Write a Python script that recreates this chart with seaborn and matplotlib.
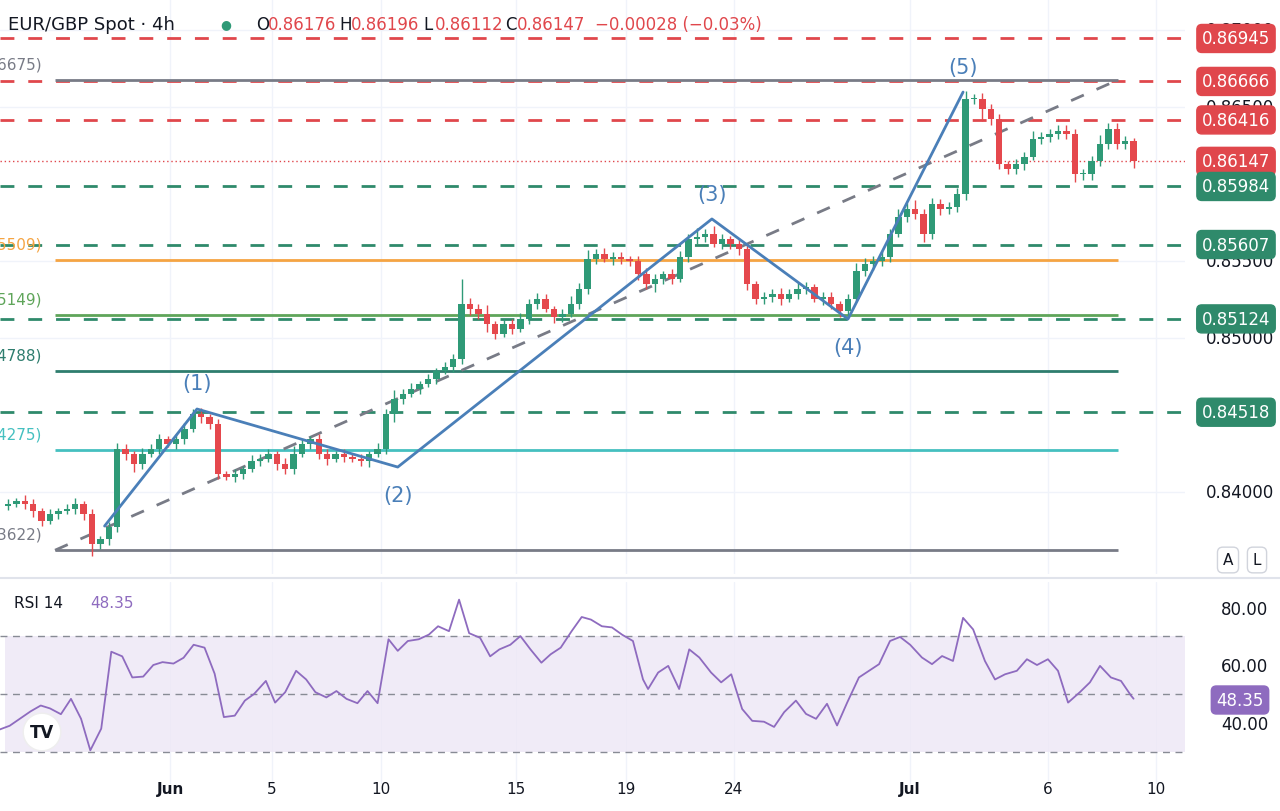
import numpy as np
import pandas as pd
import matplotlib
matplotlib.use("Agg")
import matplotlib.pyplot as plt
import seaborn as sns

# ---------------- data ----------------
closes = [0.83922,0.83942,0.83922,0.83877,0.83812,0.83857,0.83877,0.83890,0.83922,0.83857,
          0.83662,0.83695,0.83773,0.84279,0.84247,0.84182,0.84247,0.84279,0.84344,0.84312,
          0.84344,0.84409,0.84506,0.84487,0.84442,0.84117,0.84097,0.84117,0.84149,0.84201,
          0.84214,0.84247,0.84182,0.84149,0.84247,0.84312,0.84344,0.84247,0.84214,0.84247,
          0.84227,0.84214,0.84201,0.84247,0.84279,0.84506,0.84604,0.84636,0.84669,0.84701,
          0.84734,0.84786,0.84812,0.84864,0.85221,0.85188,0.85156,0.85091,0.85026,0.85091,
          0.85058,0.85123,0.85221,0.85253,0.85188,0.85136,0.85156,0.85221,0.85318,0.85513,
          0.85545,0.85513,0.85526,0.85513,0.85500,0.85416,0.85351,0.85383,0.85416,0.85383,
          0.85526,0.85643,0.85656,0.85675,0.85610,0.85643,0.85610,0.85578,0.85351,0.85253,
          0.85266,0.85286,0.85253,0.85286,0.85318,0.85331,0.85253,0.85266,0.85221,0.85175,
          0.85253,0.85435,0.85481,0.85500,0.85526,0.85675,0.85786,0.85838,0.85805,0.85675,
          0.85870,0.85838,0.85851,0.85935,0.86552,0.86552,0.86487,0.86422,0.86130,0.86097,
          0.86130,0.86175,0.86292,0.86305,0.86325,0.86344,0.86325,0.86065,0.86065,0.86149,
          0.86260,0.86357,0.86260,0.86279,0.86147]
first_open = 0.83910
upper_wick_pips = [3,2,4,3,2,3,2,3,4,2, 3,2,3,4,3,2,4,3,3,2, 3,4,3,4,2,3,2,3,2,4,
                   3,3,2,4,5,3,2,3,3,2, 3,2,3,2,4,3,6,3,4,2, 3,2,3,3,16,4,3,6,2,3,
                   3,4,3,4,3,2,3,5,4,6, 3,4,3,3,2,3,4,3,2,3, 4,3,6,3,5,3,2,3,3,2,
                   3,3,4,3,4,3,2,3,3,2, 3,5,4,3,4,3,5,4,6,3, 4,3,3,4,5,3,4,3,3,2,
                   3,3,5,3,3,4,4,3,3,3, 6,4,4,3,2]
lower_wick_pips = [3,2,3,4,3,2,3,2,3,4, 8,3,4,3,4,5,3,2,3,2, 3,3,2,4,3,3,2,3,3,2,
                   3,2,4,3,3,2,3,3,4,2, 3,2,3,4,2,3,5,3,2,3, 2,3,2,3,3,4,3,5,3,2,
                   3,2,3,3,2,4,3,2,3,3, 3,2,4,3,3,4,3,5,3,3, 2,3,3,3,2,3,3,4,4,3,
                   3,3,4,2,3,3,2,4,3,4, 3,2,3,4,3,3,2,3,3,5, 3,4,3,3,4,3,8,4,3,3,
                   3,4,2,3,3,3,3,5,4,4, 3,3,3,3,4]

rsi_bar = [-1.0,0.2,1.4,2.7,3.9,5.0,6.3,7.5,8.7,9.8,11.1,12.3,13.6,14.8,16.1,17.3,18.4,19.7,20.9,22.1,
           23.4,24.6,25.7,27.0,28.2,29.3,30.7,31.8,33.0,34.3,35.5,36.6,37.9,39.1,40.3,41.6,42.8,44.0,45.3,46.4,
           47.6,48.9,50.1,51.2,52.5,53.7,54.9,56.2,57.4,58.5,59.8,61.0,62.2,63.5,64.6,65.8,67.1,68.3,69.4,70.7,
           71.9,73.1,74.4,75.6,76.2,77.4,78.6,79.9,81.1,82.3,83.7,84.9,86.1,87.4,88.6,90.0,91.2,92.4,93.8,95.0,
           96.2,97.5,98.7,99.9,101.3,102.5,103.7,105.0,106.2,107.4,108.8,110.0,111.2,112.5,113.7,114.9,116.3,117.5,118.7,120.1,
           121.3,122.5,123.8,125.0,126.2,127.6,128.8,130.0,131.3,132.5,133.7,134.0]
rsi_val = [37.7,39.0,41.4,44.0,46.0,45.0,43.0,48.3,41.4,30.5,38.0,64.6,63.0,55.7,56.0,60.0,61.0,60.5,62.5,67.0,
           66.0,57.0,42.0,42.5,47.7,50.0,54.5,47.0,50.6,58.0,55.0,50.6,48.8,51.0,48.3,46.8,51.0,46.8,68.9,64.9,
           68.3,68.9,70.5,73.4,71.7,82.6,71.0,69.4,63.0,65.4,67.0,70.0,65.4,60.8,63.7,66.0,71.7,76.6,75.7,73.4,
           73.0,70.5,68.3,55.0,51.7,57.4,59.7,51.7,65.4,62.6,57.4,54.0,56.8,44.8,40.7,40.4,38.6,43.7,47.7,43.1,
           41.4,46.6,39.1,47.0,55.7,58.0,60.3,68.3,69.7,67.0,62.6,60.3,63.1,61.4,76.3,72.3,61.4,55.0,56.8,58.0,
           62.0,60.0,62.0,58.0,47.0,50.6,54.0,59.7,55.7,54.5,49.4,48.35]

tick_bars = [19.3,31.4,44.4,60.5,73.6,86.4,107.4,123.8,136.7]
tick_labels = ["Jun","5","10","15","19","24","Jul","6","10"]

wave_bar = [11.5,22.5,46.4,83.8,100.0,113.7]
wave_price = [0.83779,0.84539,0.84162,0.85773,0.85123,0.86597]
wave_labels = ["(1)","(2)","(3)","(4)","(5)"]

fib_levels = [0.86675,0.85509,0.85149,0.84788,0.84275,0.83622]
fib_colors = ["#787b86","#f5a442","#5fa55a","#2e7d6e","#45c0c0","#787b86"]
fib_start_bar, fib_end_bar = 5.6, 132.1

res_levels = [0.86945,0.86666,0.86416]
sup_levels = [0.85984,0.85607,0.85124,0.84518]
last_price = 0.86147
axis_prices = [0.87000,0.86500,0.85500,0.85000,0.84000]
rsi_ticks = [80,60,40]

# ---------------- figure ----------------
sns.set_theme(style="white")
W, H = 1280, 812
fig = plt.figure(figsize=(12.8, 8.12), dpi=100)
fig.patch.set_facecolor("white")

def fx(px): return px / W
def fy(py): return 1 - py / H

XL = (-0.95, (1185 - 8) / 8.4)
ax = fig.add_axes([0, fy(575), fx(1185), 575 / H])
ax.set_xlim(*XL)
pmax = 0.85 + 339 / 15400
pmin = 0.85 - 236 / 15400
ax.set_ylim(pmin, pmax)

UP, DN = "#2f9a77", "#e5484d"
RED, GRN = "#e0474c", "#2f8a6b"
PIP = 0.0001

for tb in tick_bars:
    ax.axvline(tb, color="#f0f3fa", lw=1, zorder=0)
for p in axis_prices:
    ax.axhline(p, color="#f0f3fa", lw=1, zorder=0)

n = len(closes)
opens = [first_open] + closes[:-1]
bars = np.arange(n)
for i in range(n):
    o, c = opens[i], closes[i]
    col = UP if c >= o else DN
    hi = max(o, c) + upper_wick_pips[i] * PIP
    lo = min(o, c) - lower_wick_pips[i] * PIP
    ax.vlines(bars[i], lo, hi, color=col, lw=1, zorder=3)
    body = max(abs(c - o), 0.00004)
    ax.bar(bars[i], body, bottom=min(o, c), width=0.75, color=col, zorder=3, linewidth=0)

for lv in res_levels:
    ax.axhline(lv, color=RED, lw=2, ls=(0, (5, 5)), zorder=2)
for lv in sup_levels:
    ax.axhline(lv, color=GRN, lw=2, ls=(0, (5, 5)), zorder=2)
ax.axhline(last_price, color=RED, lw=1, ls=(0, (1, 2)), zorder=2)

for lv, c in zip(fib_levels, fib_colors):
    ax.hlines(lv, fib_start_bar, fib_end_bar, color=c, lw=2, zorder=2)
    ax.text(XL[0] + 5.0, lv + 0.00055, f"({lv:.5f})", color=c, fontsize=11,
            ha="right", va="bottom", zorder=5)

ax.plot([fib_start_bar, fib_end_bar], [fib_levels[-1], fib_levels[0]], color="#787b86",
        lw=2, ls=(0, (5, 5)), zorder=2)

ax.plot(wave_bar, wave_price, color="#4a7fb8", lw=2, zorder=4)
offs = [0.0017, -0.0018, 0.0016, -0.0018, 0.0016]
for lb, b, p, o in zip(wave_labels, wave_bar[1:], wave_price[1:], offs):
    ax.text(b, p + o, lb, color="#4a7fb8", fontsize=15, ha="center", va="center", zorder=5)

ax.set_xticks([]); ax.set_yticks([])
for s in ax.spines.values():
    s.set_visible(False)

for p in axis_prices:
    fig.text(fx(1240), fy(339 - (p - 0.85) * 15400), f"{p:.5f}", fontsize=12,
             color="#131722", ha="center", va="center")
def box(price, col):
    y = 339 - (price - 0.85) * 15400
    fig.text(fx(1236), fy(y), f"{price:.5f}", fontsize=12, color="white", ha="center",
             va="center", bbox=dict(boxstyle="round,pad=0.3", fc=col, ec=col))
for lv in res_levels:
    box(lv, RED)
box(last_price, RED)
for lv in sup_levels:
    box(lv, GRN)

hy = fy(25)
fig.text(fx(8), hy, "EUR/GBP Spot · 4h", fontsize=13, color="#131722", va="center")
fig.text(fx(226), hy, "●", fontsize=9, color="#2f9a77", va="center", ha="center")
for lab, num, xl in [("O", "0.86176", 256), ("H", "0.86196", 339), ("L", "0.86112", 423), ("C", "0.86147", 505)]:
    fig.text(fx(xl), hy, lab, fontsize=12, color="#131722", va="center")
    fig.text(fx(xl + 12), hy, num, fontsize=12, color=RED, va="center")
fig.text(fx(595), hy, "−0.00028 (−0.03%)", fontsize=12, color=RED, va="center")

for t, xx in [("A", 1228), ("L", 1257)]:
    fig.text(fx(xx), fy(561), t, fontsize=11, color="#131722", ha="center", va="center",
             bbox=dict(boxstyle="round,pad=0.35", fc="white", ec="#d1d4dc"))

fig.add_artist(plt.Line2D([0, 1], [fy(579), fy(579)], color="#e0e3eb", lw=1.5))

rx = fig.add_axes([0, fy(785), fx(1185), 202 / H])
rx.set_xlim(*XL)
rx.set_ylim(30 - 32 / 2.875, 80 + 25 / 2.875)
for tb in tick_bars:
    rx.axvline(tb, color="#f0f3fa", lw=1, zorder=0)
rx.axhspan(30, 70, xmin=0.004, color="#ede7f6", alpha=0.8, zorder=0, lw=0)
for lv in [70, 50, 30]:
    rx.axhline(lv, color="#888b95", lw=1, ls=(0, (5, 4)), zorder=1)
df = pd.DataFrame({"bar": rsi_bar, "rsi": rsi_val})
sns.lineplot(data=df, x="bar", y="rsi", ax=rx, color="#8e6bbf", lw=1.3, zorder=3)
rx.set_xlabel(""); rx.set_ylabel("")
rx.set_xticks([]); rx.set_yticks([])
for s in rx.spines.values():
    s.set_visible(False)
rx.text(0.012, 0.9, "RSI 14", transform=rx.transAxes, fontsize=11, color="#131722", va="center")
rx.text(0.076, 0.9, "48.35", transform=rx.transAxes, fontsize=11, color="#8e6bbf", va="center")
for v in rsi_ticks:
    fig.text(fx(1245), fy(610 + (80 - v) * 2.875), f"{v:.2f}", fontsize=12, color="#131722",
             ha="center", va="center")
fig.text(fx(1240), fy(610 + (80 - 48.35) * 2.875), "48.35", fontsize=12, color="white",
         ha="center", va="center", bbox=dict(boxstyle="round,pad=0.3", fc="#8e6bbf", ec="#8e6bbf"))
fig.text(fx(42), fy(733), "TV", fontsize=12, fontweight="bold", color="#131722", ha="center",
         va="center", bbox=dict(boxstyle="circle,pad=0.4", fc="white", ec="#eeeeee"))

for tb, tl in zip(tick_bars, tick_labels):
    xp = 8 + tb * 8.4
    fig.text(fx(xp), fy(790), tl, fontsize=11, color="#131722", ha="center", va="center",
             fontweight="bold" if tl in ("Jun", "Jul") else "normal")

fig.savefig("out.png", dpi=100, facecolor="white")
